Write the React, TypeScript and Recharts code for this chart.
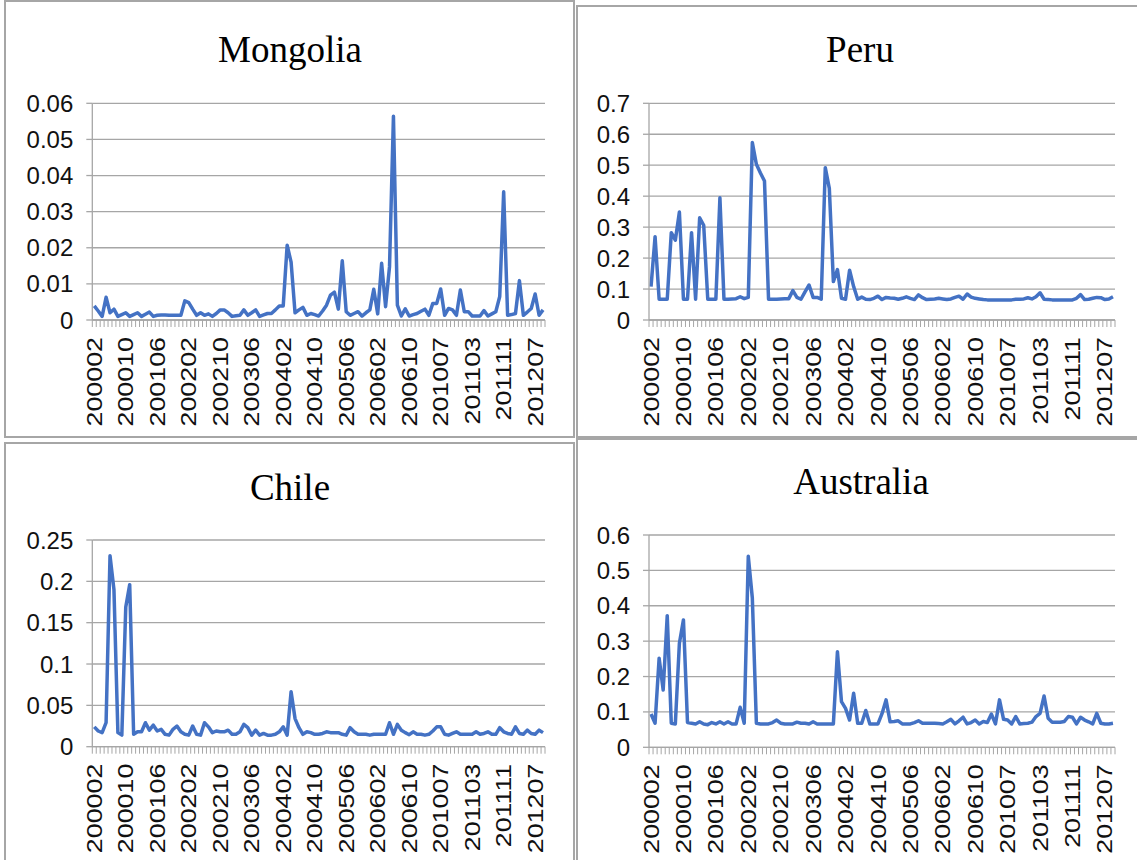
import React from 'react';
import { CartesianGrid, Line, LineChart, XAxis, YAxis } from 'recharts';

// months present in the source: 2000-02..2006-12, then 2010-02..2012-09
const monthRange = (y0: number, m0: number, y1: number, m1: number) => {
    const out: string[] = [];
    for (let y = y0, m = m0; y < y1 || (y === y1 && m <= m1); m === 12 ? (y++, m = 1) : m++) {
        out.push(`${y}${String(m).padStart(2, '0')}`);
    }
    return out;
};
const months = [...monthRange(2000, 2, 2006, 12), ...monthRange(2010, 2, 2012, 9)];

const mongolia = [
    0.0039, 0.0025, 0.0010, 0.0063, 0.0020, 0.0030, 0.0010, 0.0015, 0.0020, 0.0010,
    0.0015, 0.0020, 0.0010, 0.0016, 0.0022, 0.0010, 0.0013, 0.0014, 0.0014, 0.0013,
    0.0013, 0.0013, 0.0013, 0.0053, 0.0048, 0.0030, 0.0013, 0.0020, 0.0013, 0.0017,
    0.0010, 0.0018, 0.0028, 0.0028, 0.0020, 0.0010, 0.0012, 0.0013, 0.0028, 0.0013,
    0.0020, 0.0028, 0.0010, 0.0014, 0.0018, 0.0018, 0.0028, 0.0039, 0.0039, 0.0207,
    0.0160, 0.0020, 0.0028, 0.0035, 0.0013, 0.0018, 0.0015, 0.0011, 0.0025, 0.0041,
    0.0069, 0.0077, 0.0030, 0.0164, 0.0023, 0.0013, 0.0018, 0.0023, 0.0011, 0.0020,
    0.0028, 0.0085, 0.0017, 0.0157, 0.0037, 0.0147, 0.0564, 0.0041, 0.0011, 0.0031,
    0.0011, 0.0015, 0.0018, 0.0024, 0.0030, 0.0013, 0.0046, 0.0046, 0.0086, 0.0013,
    0.0032, 0.0028, 0.0013, 0.0083, 0.0023, 0.0023, 0.0011, 0.0011, 0.0011, 0.0026,
    0.0011, 0.0017, 0.0023, 0.0065, 0.0355, 0.0013, 0.0015, 0.0018, 0.0109, 0.0013,
    0.0022, 0.0032, 0.0072, 0.0013, 0.0028,
];

const peru = [
    0.108, 0.269, 0.067, 0.067, 0.067, 0.282, 0.258, 0.349, 0.067, 0.067,
    0.282, 0.067, 0.330, 0.306, 0.067, 0.067, 0.067, 0.395, 0.067, 0.067,
    0.068, 0.069, 0.075, 0.069, 0.073, 0.573, 0.503, 0.475, 0.449, 0.067,
    0.067, 0.067, 0.068, 0.069, 0.069, 0.095, 0.073, 0.067, 0.091, 0.113,
    0.073, 0.073, 0.067, 0.492, 0.425, 0.124, 0.163, 0.070, 0.067, 0.161,
    0.108, 0.067, 0.074, 0.067, 0.066, 0.070, 0.077, 0.066, 0.073, 0.071,
    0.070, 0.067, 0.070, 0.075, 0.070, 0.066, 0.081, 0.072, 0.066, 0.067,
    0.068, 0.070, 0.068, 0.066, 0.068, 0.073, 0.077, 0.067, 0.084, 0.074,
    0.070, 0.068, 0.066, 0.065, 0.065, 0.065, 0.065, 0.065, 0.065, 0.065,
    0.067, 0.067, 0.068, 0.072, 0.068, 0.075, 0.088, 0.067, 0.066, 0.065,
    0.065, 0.065, 0.065, 0.065, 0.065, 0.070, 0.082, 0.066, 0.067, 0.070,
    0.073, 0.072, 0.066, 0.068, 0.075,
];

const chile = [
    0.024, 0.019, 0.017, 0.029, 0.231, 0.190, 0.017, 0.014, 0.169, 0.196,
    0.015, 0.018, 0.018, 0.029, 0.020, 0.026, 0.019, 0.021, 0.015, 0.014,
    0.021, 0.025, 0.018, 0.015, 0.014, 0.025, 0.015, 0.014, 0.029, 0.024,
    0.017, 0.019, 0.018, 0.018, 0.020, 0.015, 0.015, 0.018, 0.027, 0.023,
    0.014, 0.020, 0.014, 0.016, 0.014, 0.014, 0.015, 0.018, 0.024, 0.014,
    0.0665, 0.034, 0.023, 0.015, 0.018, 0.017, 0.015, 0.015, 0.016, 0.018,
    0.017, 0.017, 0.017, 0.015, 0.014, 0.023, 0.018, 0.015, 0.015, 0.015,
    0.014, 0.015, 0.015, 0.015, 0.015, 0.029, 0.015, 0.027, 0.020, 0.017,
    0.0145, 0.018, 0.015, 0.015, 0.014, 0.015, 0.019, 0.024, 0.024, 0.015,
    0.014, 0.016, 0.018, 0.015, 0.015, 0.015, 0.015, 0.018, 0.015, 0.016,
    0.018, 0.015, 0.015, 0.023, 0.018, 0.016, 0.015, 0.024, 0.016, 0.015,
    0.020, 0.016, 0.015, 0.020, 0.017,
];

const australia = [
    0.094, 0.068, 0.252, 0.162, 0.372, 0.068, 0.066, 0.294, 0.360, 0.070,
    0.068, 0.066, 0.072, 0.066, 0.064, 0.070, 0.066, 0.072, 0.066, 0.072,
    0.066, 0.066, 0.113, 0.068, 0.540, 0.422, 0.068, 0.066, 0.066, 0.066,
    0.070, 0.077, 0.068, 0.066, 0.066, 0.066, 0.071, 0.068, 0.068, 0.066,
    0.072, 0.066, 0.066, 0.066, 0.066, 0.066, 0.270, 0.129, 0.110, 0.077,
    0.153, 0.068, 0.068, 0.104, 0.066, 0.066, 0.066, 0.095, 0.134, 0.072,
    0.073, 0.075, 0.066, 0.066, 0.066, 0.070, 0.075, 0.068, 0.068, 0.068,
    0.068, 0.067, 0.066, 0.072, 0.079, 0.066, 0.075, 0.085, 0.066, 0.070,
    0.077, 0.066, 0.073, 0.070, 0.094, 0.066, 0.134, 0.079, 0.077, 0.066,
    0.087, 0.066, 0.067, 0.068, 0.071, 0.087, 0.096, 0.145, 0.082, 0.071,
    0.071, 0.071, 0.073, 0.087, 0.085, 0.066, 0.085, 0.077, 0.072, 0.066,
    0.096, 0.068, 0.066, 0.066, 0.068,
];

const mongoliaTicks = [0, 0.01, 0.02, 0.03, 0.04, 0.05, 0.06];
const peruTicks = [0, 0.1, 0.2, 0.3, 0.4, 0.5, 0.6, 0.7];
const chileTicks = [0, 0.05, 0.1, 0.15, 0.2, 0.25];
const australiaTicks = [0, 0.1, 0.2, 0.3, 0.4, 0.5, 0.6];

const LABEL_EVERY = 8;

const GRAY = '#a6a6a6';
const BLUE = '#4472c4';
const SANS = '"Liberation Sans", Arial, sans-serif';
const SERIF = '"Liberation Serif", "Times New Roman", serif';

const MonthTick = (props: any) => {
    const { x, y, payload, index, band, last } = props;
    const i = payload?.index ?? index;
    return (
        <g>
            <line x1={x - band / 2} x2={x - band / 2} y1={y} y2={y + 7} stroke={GRAY} strokeWidth={1} />
            {i === last && <line x1={x + band / 2} x2={x + band / 2} y1={y} y2={y + 7} stroke={GRAY} strokeWidth={1} />}
            {i % LABEL_EVERY === 0 && (
                <text
                    transform={`translate(${x},${y + 17}) rotate(-90) scale(1.22,1)`}
                    textAnchor="end"
                    dominantBaseline="central"
                    fontSize={22}
                    fontFamily={SANS}
                    fill="#111"
                >
                    {payload.value}
                </text>
            )}
        </g>
    );
};

type PanelProps = {
    title: string;
    values: number[];
    ticks: number[];
    left: number;
    top: number;
    width: number;
    height: number;
    plot: { left: number; right: number; top: number; bottom: number };
    titleX: number;
    titleY: number;
};

const Panel = ({ title, values, ticks, left, top, width, height, plot, titleX, titleY }: PanelProps) => {
    const data = months.map((m, i) => ({ month: m, value: values[i] }));
    const band = (plot.right - plot.left) / months.length;
    return (
        <div style={{ position: 'absolute', left, top, width, height }}>
            <LineChart
                width={width}
                height={height}
                data={data}
                margin={{ top: plot.top - top, right: left + width - plot.right, bottom: 0, left: 0 }}
            >
                <CartesianGrid vertical={false} stroke={GRAY} strokeWidth={1.3} />
                <XAxis
                    dataKey="month"
                    interval={0}
                    height={top + height - plot.bottom}
                    padding={{ left: band / 2, right: band / 2 }}
                    tickLine={false}
                    tickSize={0}
                    tickMargin={0}
                    axisLine={{ stroke: GRAY, strokeWidth: 1.3 }}
                    tick={<MonthTick band={band} last={months.length - 1} />}
                />
                <YAxis
                    width={plot.left - left}
                    domain={[0, ticks[ticks.length - 1]]}
                    ticks={ticks}
                    interval={0}
                    tickSize={6}
                    tickMargin={13}
                    tickLine={{ stroke: GRAY, strokeWidth: 1.3 }}
                    axisLine={{ stroke: GRAY, strokeWidth: 1.3 }}
                    tick={{ fill: '#111', fontSize: 24, fontFamily: SANS }}
                />
                <Line
                    type="linear"
                    dataKey="value"
                    stroke={BLUE}
                    strokeWidth={3.5}
                    strokeLinejoin="round"
                    dot={false}
                    activeDot={false}
                    isAnimationActive={false}
                />
            </LineChart>
            <svg style={{ position: 'absolute', left: 0, top: 0, pointerEvents: 'none' }} width={width} height={height}>
                <text x={titleX - left} y={titleY - top} textAnchor="middle" fontSize={37} fontFamily={SERIF} fill="#000">
                    {title}
                </text>
            </svg>
        </div>
    );
};

const frame = (l: number, t: number, w: number, h: number): React.CSSProperties => ({
    position: 'absolute', left: l, top: t, width: w, height: h, border: `2px solid ${GRAY}`, boxSizing: 'border-box',
});

export default function App() {
    return (
        <div style={{ position: 'absolute', left: 0, top: 0, width: 1137, height: 860, background: '#fff', overflow: 'hidden' }}>
            <div style={frame(4, 0, 571, 438)} />
            <div style={frame(576, 5, 570, 433)} />
            <div style={frame(4, 442, 571, 430)} />
            <div style={frame(576, 438, 570, 430)} />
            <Panel title="Mongolia" values={mongolia} ticks={mongoliaTicks} left={0} top={0} width={573} height={437}
                plot={{ left: 92.3, right: 545, top: 103.3, bottom: 320 }} titleX={290} titleY={62} />
            <Panel title="Peru" values={peru} ticks={peruTicks} left={577} top={0} width={560} height={437}
                plot={{ left: 649, right: 1115, top: 103.3, bottom: 320 }} titleX={860} titleY={62} />
            <Panel title="Chile" values={chile} ticks={chileTicks} left={0} top={440} width={573} height={420}
                plot={{ left: 92.3, right: 545, top: 540, bottom: 746.7 }} titleX={290} titleY={500} />
            <Panel title="Australia" values={australia} ticks={australiaTicks} left={577} top={440} width={560} height={420}
                plot={{ left: 649, right: 1115, top: 535, bottom: 747.3 }} titleX={861} titleY={494} />
        </div>
    );
}
